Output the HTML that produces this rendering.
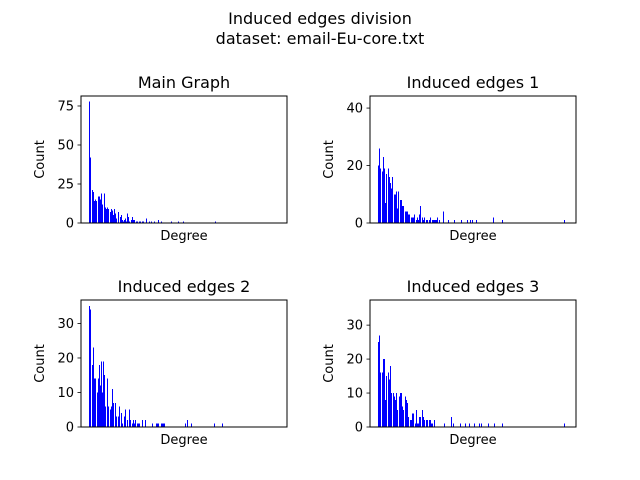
<!DOCTYPE html>
<html><head><meta charset="utf-8"><style>
body{margin:0;background:#fff;}
svg{display:block;font-family:"DejaVu Sans","Liberation Sans",sans-serif;}
</style></head><body>
<svg id="fig" width="640" height="480">
<text x="320" y="24" font-size="16" text-anchor="middle">Induced edges division</text>
<text x="320" y="44" font-size="16" text-anchor="middle">dataset: email-Eu-core.txt</text>
</svg>
<script>
const titles = ["Main Graph","Induced edges 1","Induced edges 2","Induced edges 3"];
const ymaxes = [81.4, 44.2, 36.8, 37.4];
const yticks0 = [0,25,50,75];
const yticks1 = [0,20,40];
const yticks2 = [0,10,20,30];
const yticks3 = [0,10,20,30];
const dense0 = [78,42,0,21,20,14,15,14,0,17,17,15,19,12,0,19,10,9,10,9,0,7,9,8,5,9,6,3,0,7,0,4,5,2,1,2,3,1,6,4,1,0,2,4,2,2,0,1,1,0,1,1,0,1,1,0,0,3];
const sparseDeg0 = [61,63,66,70,73,83,90,95,127];
const sparseCnt0 = [1,1,1,2,1,1,1,1,1];
const dense1 = [20,26,19,0,18,23,19,7,17,0,19,16,14,12,16,0,10,10,11,5,11,0,8,8,6,6,0,4,4,4,3,3,0,2,2,2,3,0,1,2,1,3,6,0,2,1,2,0,1,1,0,1,2,0,1,1,1,1,1,2,0,1];
const sparseDeg1 = [66,71,77,84,90,93,95,99,116,125,187];
const sparseCnt1 = [4,1,1,1,1,1,1,1,2,1,1];
const dense2 = [35,34,0,18,23,14,14,0,10,14,18,12,19,10,19,15,6,0,14,6,0,5,6,11,7,0,7,3,0,3,6,0,4,1,0,3,5,0,2,0,5,2,0,1,2,1,2,0,1,1,1,0,0,2,0,0,2];
const sparseDeg2 = [64,68,69,70,73,74,75,76,97,99,103,126,134];
const sparseCnt2 = [1,1,1,1,1,1,1,1,1,2,1,1,1];
const dense3 = [25,27,16,0,16,20,20,8,15,0,16,14,18,10,0,10,9,8,10,5,0,9,10,10,6,5,0,9,8,7,3,0,2,2,4,4,0,1,5,1,1,3,3,0,5,3,2,0,2,2,0,2,2,1,1,0,2];
const sparseDeg3 = [67,74,76,83,88,92,97,102,104,111,117,125,187];
const sparseCnt3 = [1,3,1,1,1,1,1,1,1,1,1,1,1];

const NS="http://www.w3.org/2000/svg";
const svg=document.getElementById('fig');
const boxes=[[81,96],[370,96],[81,300],[370,300]];
const W=206,H=127,XMIN=-7,XMAX=199;
const allTicks=[yticks0,yticks1,yticks2,yticks3];
const allDense=[dense0,dense1,dense2,dense3];
const allSD=[sparseDeg0,sparseDeg1,sparseDeg2,sparseDeg3];
const allSC=[sparseCnt0,sparseCnt1,sparseCnt2,sparseCnt3];
function mk(tag,attrs){const e=document.createElementNS(NS,tag);for(const k in attrs)e.setAttribute(k,attrs[k]);svg.appendChild(e);return e;}
for(let p=0;p<4;p++){
  const [L,T]=boxes[p];
  const xs=d=>L+(d-XMIN)/(XMAX-XMIN)*W;
  const ys=v=>T+H-v/ymaxes[p]*H;
  const bars=[];
  allDense[p].forEach((v,i)=>bars.push([i+1,v]));
  allSD[p].forEach((d,i)=>bars.push([d,allSC[p][i]]));
  bars.forEach(([d,v])=>{
    if(v<=0)return;
    const r=mk('rect',{x:Math.round(xs(d)-0.5),y:ys(v),width:1,height:ys(0)-ys(v),fill:'#0000ff','shape-rendering':'crispEdges'});
    
    
  });
  const fr=mk('rect',{x:L,y:T,width:W,height:H,fill:'none',stroke:'#000','stroke-width':1});
  
  
  allTicks[p].forEach(t=>{
    const y=ys(t);
    const tl=mk('line',{x1:L-3.5,x2:L,y1:y,y2:y,stroke:'#000','stroke-width':0.8});
    
    
    const tx=mk('text',{x:L-7,y:y+4.5,'font-size':13,'text-anchor':'end'});
    tx.textContent=t;
    
    
  });
  const ti=mk('text',{x:L+W/2,y:T-8,'font-size':16,'text-anchor':'middle'});
  ti.textContent=titles[p];
  
  
  const xl=mk('text',{x:L+W/2,y:T+H+17,'font-size':13,'text-anchor':'middle'});
  xl.textContent='Degree';
  
  
  const yl=mk('text',{x:0,y:0,'font-size':13,'text-anchor':'middle',transform:`translate(${L-37},${T+H/2}) rotate(-90)`});
  yl.textContent='Count';
  
  
}
</script>
</body></html>
